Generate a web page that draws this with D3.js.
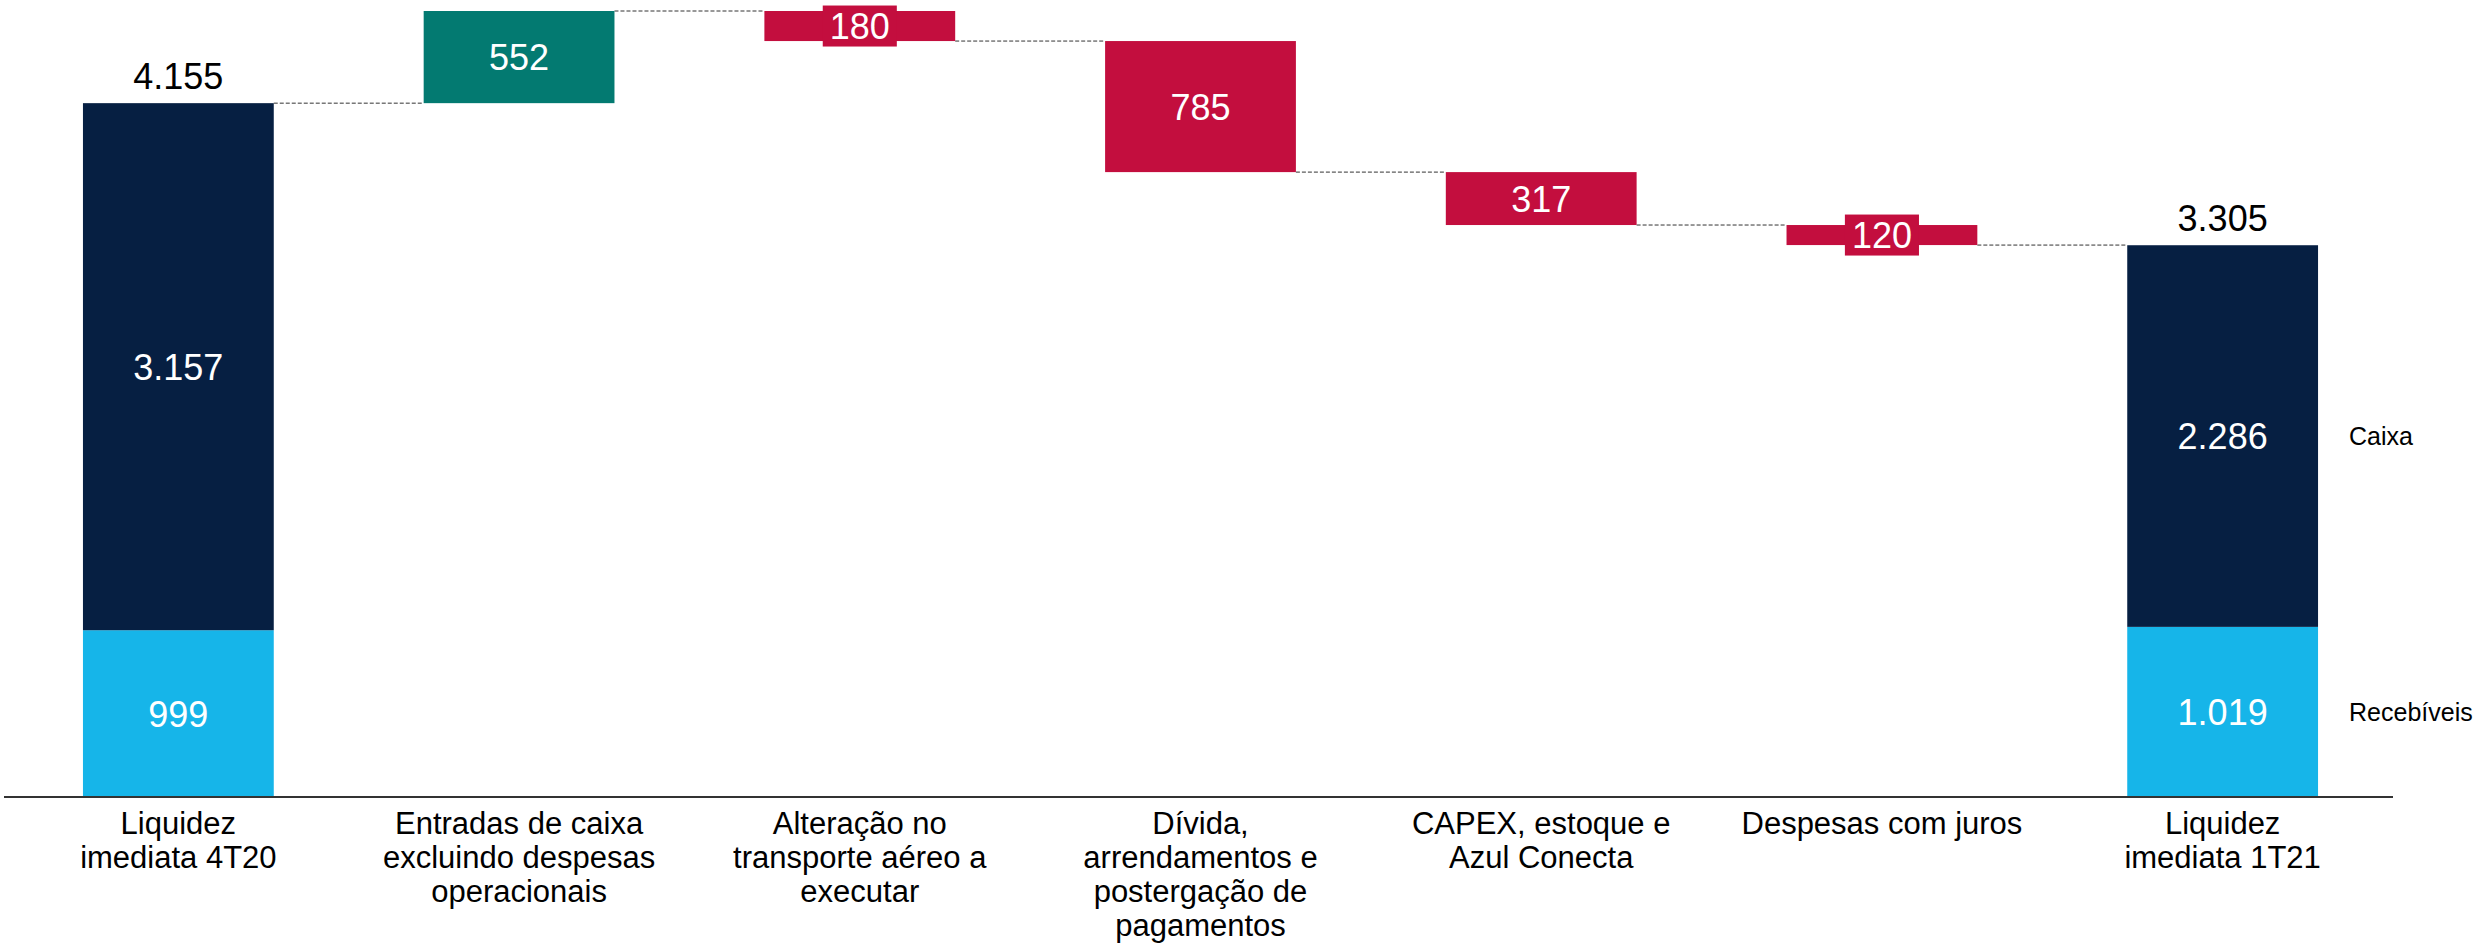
<!DOCTYPE html>
<html><head><meta charset="utf-8">
<script src="https://cdn.jsdelivr.net/npm/d3@7"></script>
<style>html,body{margin:0;padding:0;background:#fff;}svg{display:block;font-family:"Liberation Sans",Arial,sans-serif;}</style>
</head><body>
<svg id="c" width="2489" height="945"></svg>
<script>
const categories = [
  ["Liquidez","imediata 4T20"],
  ["Entradas de caixa","excluindo despesas","operacionais"],
  ["Alteração no","transporte aéreo a","executar"],
  ["Dívida,","arrendamentos e","postergação de","pagamentos"],
  ["CAPEX, estoque e","Azul Conecta"],
  ["Despesas com juros"],
  ["Liquidez","imediata 1T21"]
];
const types = ["total","up","down","down","down","down","total"];
const recebiveis = [999, null, null, null, null, null, 1019];
const caixa = [3157, null, null, null, null, null, 2286];
const deltas = [null, 552, -180, -785, -317, -120, null];
const valueLabels = ["3.157","552","180","785","317","120","2.286"];
const recebLabels = ["999", null, null, null, null, null, "1.019"];
const totalLabels = ["4.155", null, null, null, null, null, "3.305"];
const legendLabels = ["Caixa","Recebíveis"];

const colors = {navy:"#061f42", light:"#16b5e9", up:"#037a71", down:"#c30e3e"};

const svg = d3.select("#c");
const x = d3.scaleBand().domain(d3.range(categories.length)).range([8, 2393]).paddingInner(0.44).paddingOuter(0.22);

let level = 0;
const bars = [];
categories.forEach((c,i)=>{
  if (types[i]==="total") {
    const tot = recebiveis[i] + caixa[i];
    bars.push({i, y0:0, y1:tot, tot});
    level = tot;
  } else {
    const a = level, b = level + deltas[i];
    bars.push({i, y0:Math.min(a,b), y1:Math.max(a,b), end:b});
    level = b;
  }
});
const maxTop = d3.max(bars, d=>d.y1);
const y = d3.scaleLinear().domain([0, maxTop]).range([797, 11]);

const levels = bars.map(d => types[d.i]==="total" ? d.tot : d.end);
for (let i=0;i<bars.length-1;i++){
  svg.append("line")
    .attr("x1", x(i)+x.bandwidth()).attr("x2", x(i+1))
    .attr("y1", y(levels[i])).attr("y2", y(levels[i]))
    .attr("stroke","#333").attr("stroke-width",1).attr("stroke-dasharray","4,2");
}

bars.forEach(d=>{
  const i = d.i, xx = x(i), w = x.bandwidth();
  if (types[i]==="total"){
    svg.append("rect").attr("x",xx).attr("width",w)
      .attr("y",y(recebiveis[i])).attr("height",y(0)-y(recebiveis[i])).attr("fill",colors.light);
    svg.append("rect").attr("x",xx).attr("width",w)
      .attr("y",y(d.tot)).attr("height",y(recebiveis[i])-y(d.tot)).attr("fill",colors.navy);
    svg.append("text").attr("x",xx+w/2).attr("y",(y(recebiveis[i])+y(0))/2).attr("dy","0.36em")
      .attr("text-anchor","middle").attr("fill","#fff").attr("font-size",36).text(recebLabels[i]);
    svg.append("text").attr("x",xx+w/2).attr("y",(y(recebiveis[i])+y(d.tot))/2).attr("dy","0.36em")
      .attr("text-anchor","middle").attr("fill","#fff").attr("font-size",36).text(valueLabels[i]);
    svg.append("text").attr("x",xx+w/2).attr("y",y(d.tot)-14)
      .attr("text-anchor","middle").attr("fill","#000").attr("font-size",36).text(totalLabels[i]);
  } else {
    const fill = types[i]==="up" ? colors.up : colors.down;
    svg.append("rect").attr("x",xx).attr("width",w)
      .attr("y",y(d.y1)).attr("height",y(d.y0)-y(d.y1)).attr("fill",fill);
    const cy = (y(d.y0)+y(d.y1))/2;
    const g = svg.append("g");
    const t = g.append("text").attr("x",xx+w/2).attr("y",cy).attr("dy","0.36em")
      .attr("text-anchor","middle").attr("fill","#fff").attr("font-size",36).text(valueLabels[i]);
    const bh = y(d.y0)-y(d.y1);
    if (bh < 41) {
      const tw = t.node().getComputedTextLength();
      g.insert("rect","text").attr("x",xx+w/2-tw/2-7).attr("width",tw+14)
        .attr("y",cy-20.5).attr("height",41).attr("fill",fill);
    }
  }
});

svg.append("line").attr("x1",4).attr("x2",2393).attr("y1",797).attr("y2",797)
  .attr("stroke","#333").attr("stroke-width",2);

categories.forEach((lines,i)=>{
  const t = svg.append("text").attr("x",x(i)+x.bandwidth()/2).attr("y",834)
    .attr("text-anchor","middle").attr("fill","#000").attr("font-size",31);
  lines.forEach((l,k)=>{
    t.append("tspan").attr("x",x(i)+x.bandwidth()/2).attr("y",834+k*34).text(l);
  });
});

const last = categories.length-1;
const lx = x(last)+x.bandwidth()+31;
svg.append("text").attr("x",lx).attr("y",(y(recebiveis[last])+y(recebiveis[last]+caixa[last]))/2).attr("dy","0.36em")
  .attr("font-size",25).attr("fill","#000").text(legendLabels[0]);
svg.append("text").attr("x",lx).attr("y",(y(0)+y(recebiveis[last]))/2).attr("dy","0.36em")
  .attr("font-size",25).attr("fill","#000").text(legendLabels[1]);
</script>
</body></html>
